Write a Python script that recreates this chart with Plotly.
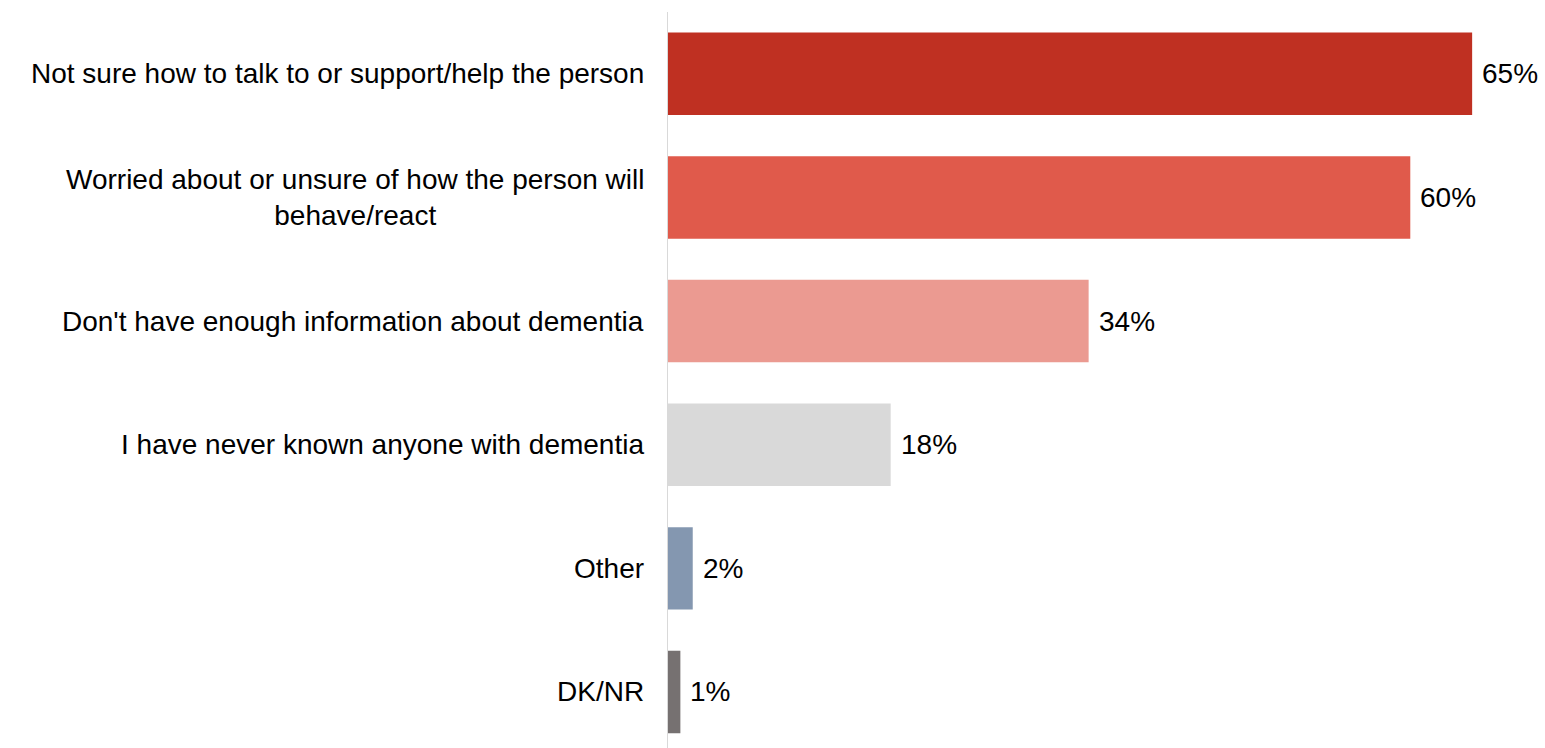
import plotly.graph_objects as go

# Reasons for not engaging with someone who has dementia (% of respondents)
categories = [
    "Not sure how to talk to or support/help the person",
    "Worried about or unsure of how the person will<br>behave/react",
    "Don't have enough information about dementia",
    "I have never known anyone with dementia",
    "Other",
    "DK/NR",
]
values = [65, 60, 34, 18, 2, 1]
bar_colors = ["#BF3022", "#E05A4B", "#EB9A91", "#D9D9D9", "#8497B0", "#767171"]

FONT = "Liberation Sans, Arial, sans-serif"
FSIZE = 28

fig = go.Figure(
    go.Bar(
        x=values,
        y=categories,
        orientation="h",
        marker=dict(color=bar_colors, line=dict(width=0)),
        hoverinfo="skip",
    )
)

# Value labels just past each bar end
for cat, v in zip(categories, values):
    fig.add_annotation(
        x=v, y=cat, xref="x", yref="y",
        text=f"{v}%", showarrow=False,
        xanchor="left", xshift=8,
        font=dict(family=FONT, size=FSIZE, color="#000000"),
    )

# Category labels, right-aligned against the axis, lines centred
for cat in categories:
    fig.add_annotation(
        x=0, y=cat, xref="paper", yref="y",
        text=cat, showarrow=False,
        xanchor="right", xshift=-22, align="center",
        font=dict(family=FONT, size=FSIZE, color="#000000"),
    )

fig.update_layout(
    width=1545,
    height=748,
    margin=dict(l=668, r=11, t=12, b=0),
    paper_bgcolor="white",
    plot_bgcolor="white",
    bargap=0.333,
    showlegend=False,
    font=dict(family=FONT, size=FSIZE, color="#000000"),
    xaxis=dict(range=[0, 70], visible=False, fixedrange=True),
    yaxis=dict(
        categoryorder="array",
        categoryarray=categories,
        range=[5.453, -0.5],
        showticklabels=False,
        showgrid=False,
        zeroline=False,
        showline=True,
        linecolor="#D9D9D9",
        linewidth=1,
        ticks="",
        fixedrange=True,
    ),
)

fig.write_html("out.html")
